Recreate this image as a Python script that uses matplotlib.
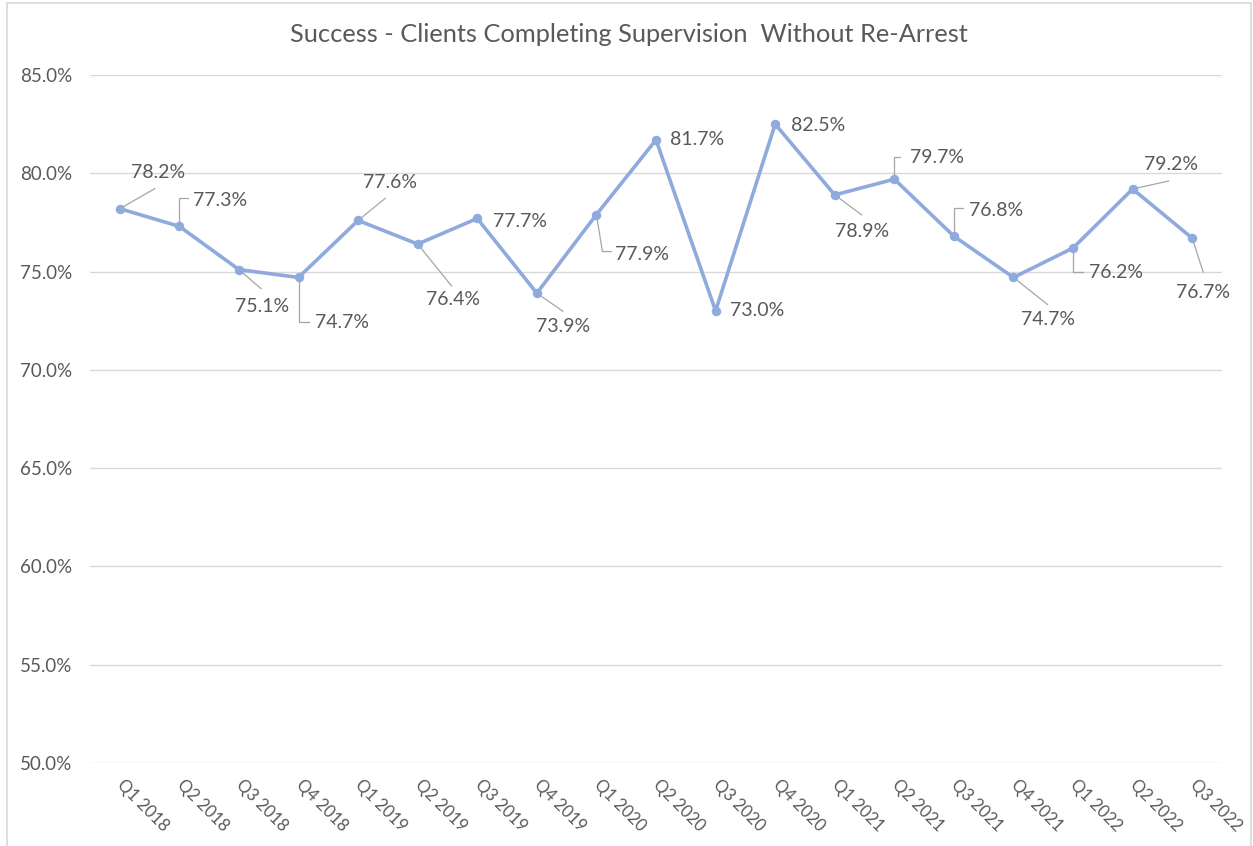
import matplotlib
matplotlib.use("Agg")
import matplotlib.pyplot as plt
from matplotlib.patches import Rectangle
from matplotlib.ticker import FuncFormatter, MultipleLocator

# ---- data ----
quarters = ["Q1 2018", "Q2 2018", "Q3 2018", "Q4 2018",
            "Q1 2019", "Q2 2019", "Q3 2019", "Q4 2019",
            "Q1 2020", "Q2 2020", "Q3 2020", "Q4 2020",
            "Q1 2021", "Q2 2021", "Q3 2021", "Q4 2021",
            "Q1 2022", "Q2 2022", "Q3 2022"]
success_rate = [78.2, 77.3, 75.1, 74.7,
                77.6, 76.4, 77.7, 73.9,
                77.9, 81.7, 73.0, 82.5,
                78.9, 79.7, 76.8, 74.7,
                76.2, 79.2, 76.7]
title = "Success - Clients Completing Supervision  Without Re-Arrest"

# ---- label layout (pixel offsets from the point; image y downward) ----
label_offsets = [(38, -36), (41, -26), (23, 37), (43, 45),
                 (32, -38), (35, 55), (43, 3), (26, 33),
                 (46, 40), (41, 0), (42, 0), (43, 1),
                 (27, 37), (43, -22), (42, -26), (35, 42),
                 (43, 25), (38, -25), (11, 54)]
leaders = [[(0, 0), (35, -20)],
           [(0, 0), (0, -28), (9, -28)],
           [(0, 0), (22, 19)],
           [(0, 0), (0, 45), (10, 45)],
           [(0, 0), (27, -22)],
           [(0, 0), (34, 42)],
           None,
           [(0, 0), (26, 18)],
           [(0, 0), (6, 37), (15, 37)],
           None, None, None,
           [(0, 0), (27, 20)],
           [(0, 0), (0, -22), (6, -22)],
           [(0, 0), (0, -28), (9, -28)],
           [(0, 0), (34, 27)],
           [(0, 0), (0, 24), (10, 24)],
           [(0, 0), (36, -8)],
           [(0, 0), (11, 34)]]

plt.rcParams['font.family'] = ['Lato', 'DejaVu Sans']
TXT = "#595959"
LINE = "#8FAADC"
GRID = "#D9D9D9"

W, H = 1253, 846
fig = plt.figure(figsize=(W / 100, H / 100), dpi=100)
ax = fig.add_axes([90 / W, 1 - 763 / H, (1222 - 90) / W, (763 - 75) / H])

x = list(range(len(quarters)))
ax.plot(x, success_rate, color=LINE, lw=2.6, marker='o', ms=5.8,
        markerfacecolor=LINE, markeredgecolor=LINE, zorder=3,
        solid_joinstyle='round')

ax.set_xlim(-0.5, len(quarters) - 0.5)
ax.set_ylim(50, 85)
ax.yaxis.set_major_locator(MultipleLocator(5))
ax.yaxis.set_major_formatter(FuncFormatter(lambda v, p: f"{v:.1f}%"))
ax.grid(axis='y', color=GRID, lw=1.0)
ax.set_axisbelow(True)
for s in ax.spines.values():
    s.set_visible(False)
ax.tick_params(axis='both', length=0, colors=TXT)
ax.tick_params(axis='y', pad=13, labelsize=13.5)
ax.set_xticks(x)
ax.set_xticklabels(quarters, rotation=-45, ha='left', va='center',
                   rotation_mode='anchor')
ax.tick_params(axis='x', pad=14, labelsize=12)

fig.text(629 / W, 1 - 34 / H, title, ha='center', va='center',
         fontsize=18.3, color=TXT)

# border frame
fig.patches.append(Rectangle((7 / W, -0.01), (1251 - 7) / W, 1 - 3 / H + 0.01,
                             transform=fig.transFigure, fill=False,
                             edgecolor=GRID, lw=1.2))

fig.canvas.draw()
inv = ax.transData.inverted()
for i, v in enumerate(success_rate):
    px, py = ax.transData.transform((i, v))
    dx, dy = label_offsets[i]
    tx, ty = inv.transform((px + dx, py - dy))
    ax.text(tx, ty, f"{v:.1f}%", ha='center', va='center', fontsize=14,
            color=TXT, zorder=4)
    if leaders[i]:
        pts = [inv.transform((px + a, py - b)) for a, b in leaders[i]]
        ax.plot([p[0] for p in pts], [p[1] for p in pts], color="#A6A6A6",
                lw=0.9, zorder=2, clip_on=False)

fig.savefig("out.png", dpi=100)
